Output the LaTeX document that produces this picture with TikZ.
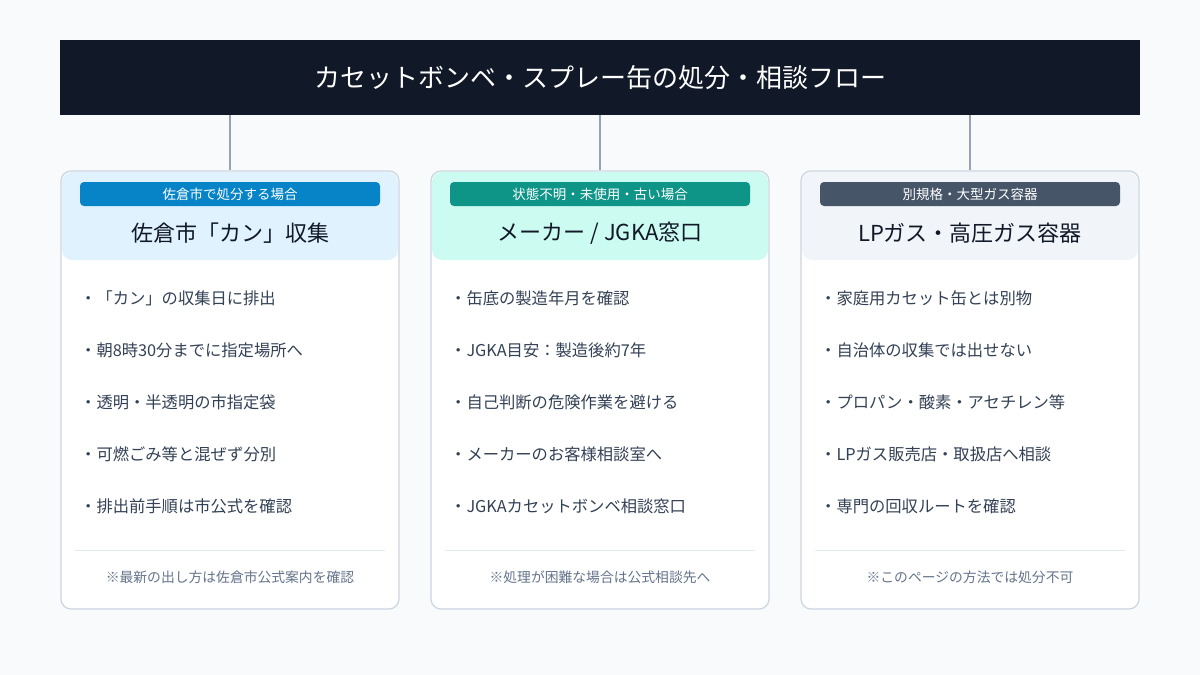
\documentclass[tikz,border=0pt]{standalone}
\usepackage{fontspec}
\setmainfont{Noto Sans CJK JP}
\usetikzlibrary{calc}
\definecolor{bg}{HTML}{F8FAFC}
\definecolor{navy}{HTML}{111827}
\definecolor{conn}{HTML}{94A3B8}
\definecolor{cardborder}{HTML}{CBD5E1}
\definecolor{hA}{HTML}{E0F2FE}
\definecolor{hB}{HTML}{CCFBF1}
\definecolor{hC}{HTML}{F1F5F9}
\definecolor{bA}{HTML}{0784C7}
\definecolor{bB}{HTML}{0F9488}
\definecolor{bC}{HTML}{475569}
\definecolor{ttl}{HTML}{111827}
\definecolor{itemc}{HTML}{334155}
\definecolor{footc}{HTML}{64748B}
\definecolor{sep}{HTML}{E2E8F0}
\tikzset{
  card/.style={draw=cardborder, line width=1.2pt, fill=white, rounded corners=10pt, minimum width=338pt, minimum height=438pt, inner sep=0pt},
  headbox/.style={rounded corners=10pt, minimum width=336pt, minimum height=88pt, inner sep=0pt},
  badge/.style={rounded corners=4pt, minimum width=300pt, minimum height=24pt, inner sep=0pt, text=white, font=\fontsize{13.5}{15}\selectfont},
  cardtitle/.style={text=ttl, font=\fontsize{22}{26}\selectfont, inner sep=0pt},
  item/.style={text=itemc, font=\fontsize{16.3}{19}\selectfont, anchor=west, inner sep=0pt},
  foot/.style={text=footc, font=\fontsize{13.8}{16}\selectfont, inner sep=0pt},
  connector/.style={draw=conn, line width=2.5pt},
  sepline/.style={draw=sep, line width=1pt}
}
\begin{document}
\begin{tikzpicture}[x=1pt,y=-1pt]
\fill[bg] (0,0) rectangle (1200,675);
\useasboundingbox (0,0) rectangle (1200,675);
\node[fill=navy, minimum width=1080pt, minimum height=75pt, inner sep=0pt, text=white, font=\fontsize{26}{30}\selectfont] (title) at (600,77.5) {カセットボンベ・スプレー缶の処分・相談フロー};

% cards
\foreach \i/\cx/\hc/\bc in {1/230/hA/bA, 2/600/hB/bB, 3/970/hC/bC} {
  \node[card] (card\i) at (\cx,390) {};
  \node[headbox, fill=\hc] (head\i) at (\cx,216) {};
  \node[badge, fill=\bc] (badge\i) at (\cx,194) {};
  \draw[sepline] (\cx-155,550) -- (\cx+155,550);
}
\node[badge, fill=none] at (badge1) {佐倉市で処分する場合};
\node[badge, fill=none] at (badge2) {状態不明・未使用・古い場合};
\node[badge, fill=none] at (badge3) {別規格・大型ガス容器};
\node[cardtitle] (t1) at (230,233) {佐倉市「カン」収集};
\node[cardtitle] (t2) at (600,233) {メーカー / JGKA窓口};
\node[cardtitle] (t3) at (970,233) {LPガス・高圧ガス容器};

\foreach \y/\a/\b/\c in {
 298/「カン」の収集日に排出/缶底の製造年月を確認/家庭用カセット缶とは別物,
 350/朝8時30分までに指定場所へ/JGKA目安：製造後約7年/自治体の収集では出せない,
 402/透明・半透明の市指定袋/自己判断の危険作業を避ける/プロパン・酸素・アセチレン等,
 454/可燃ごみ等と混ぜず分別/メーカーのお客様相談室へ/LPガス販売店・取扱店へ相談,
 506/排出前手順は市公式を確認/JGKAカセットボンベ相談窓口/専門の回収ルートを確認} {
  \node[item] at (80,\y) {・\a};
  \node[item] at (450,\y) {・\b};
  \node[item] at (820,\y) {・\c};
}
\node[foot] (f1) at (230,577) {※最新の出し方は佐倉市公式案内を確認};
\node[foot] (f2) at (600,577) {※処理が困難な場合は公式相談先へ};
\node[foot] (f3) at (970,577) {※このページの方法では処分不可};

\foreach \i in {1,2,3} {
  \draw[connector] (title.south -| card\i.north) -- (card\i.north);
}
\end{tikzpicture}
\end{document}
